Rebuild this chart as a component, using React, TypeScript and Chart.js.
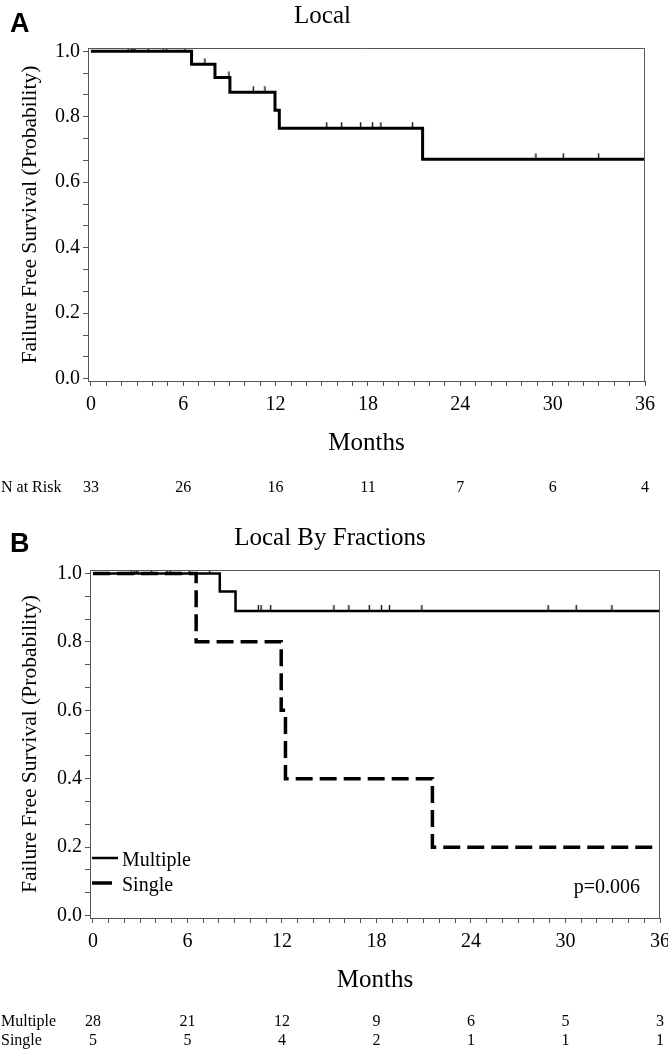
import React, { useEffect, useRef } from 'react';
import { Chart, registerables } from 'chart.js';

Chart.register(...registerables);

const SERIF = '"Liberation Serif", "Times New Roman", Times, serif';
const SANS = '"Liberation Sans", Arial, sans-serif';

// ---- axis ticks ----
const monthMajorTicks = [0, 6, 12, 18, 24, 30, 36];
const monthMinorStep = 1;
const probMajorTicks = [0, 0.2, 0.4, 0.6, 0.8, 1.0];
const probTickLabels = ['0.0', '0.2', '0.4', '0.6', '0.8', '1.0'];
const probMinorPerMajor = 2;

// ---- Panel A: Local ----
const localTimes = [0, 6.54, 8.06, 9.03, 11.96, 12.24, 21.55, 36];
const localSurvival = [1.0, 0.96, 0.92, 0.875, 0.82, 0.765, 0.67, 0.67];
const localCensorTimes = [2.42, 2.64, 2.75, 2.86, 3.72, 4.7, 4.92, 6.11, 7.41, 8.97, 10.55, 11.31, 15.32, 16.29, 17.52, 18.3, 18.84, 20.9, 28.91, 30.69, 32.99];
const localAtRisk = [33, 26, 16, 11, 7, 6, 4];

// ---- Panel B: Local By Fractions ----
const seriesNames = ['Multiple', 'Single'];
const multipleTimes = [0, 8.05, 9.05, 36];
const multipleSurvival = [1.0, 0.947, 0.89, 0.89];
const multipleCensorTimes = [2.42, 2.64, 2.75, 2.86, 3.72, 4.7, 4.92, 6.11, 7.41, 10.5, 10.67, 11.28, 15.3, 16.25, 17.54, 18.32, 18.82, 20.88, 28.9, 30.68, 32.95];
const singleTimes = [0, 6.55, 11.95, 12.22, 21.55, 36];
const singleSurvival = [1.0, 0.8, 0.6, 0.4, 0.2, 0.2];
const multipleAtRisk = [28, 21, 12, 9, 6, 5, 3];
const singleAtRisk = [5, 5, 4, 2, 1, 1, 1];
const pValueText = 'p=0.006';

const toPoints = (times: number[], surv: number[]) => times.map((t, i) => ({ x: t, y: surv[i] }));
const levelAt = (times: number[], surv: number[], t: number) => {
  let v = surv[0];
  for (let i = 0; i < times.length; i++) if (times[i] <= t) v = surv[i];
  return v;
};
const censorPoints = (ct: number[], times: number[], surv: number[]) =>
  ct.map((t) => ({ x: t, y: levelAt(times, surv, t) }));

function makeCensorMark() {
  const c = document.createElement('canvas');
  c.width = 3;
  c.height = 14;
  const g = c.getContext('2d')!;
  g.strokeStyle = '#000';
  g.lineWidth = 1.3;
  g.beginPath();
  g.moveTo(1.5, 1);
  g.lineTo(1.5, 7);
  g.stroke();
  return c;
}

const decorPlugin = {
  id: 'decor',
  afterDraw(chart: any, _args: any, opts: any) {
    const { ctx, chartArea: a, scales } = chart;
    ctx.save();
    // frame (top + right)
    ctx.strokeStyle = '#555';
    ctx.lineWidth = 1;
    ctx.beginPath();
    ctx.moveTo(a.left, a.top + 0.5);
    ctx.lineTo(a.right - 0.5, a.top + 0.5);
    ctx.lineTo(a.right - 0.5, a.bottom);
    ctx.stroke();
    // panel letter
    ctx.fillStyle = '#000';
    ctx.font = `bold 27px ${SANS}`;
    ctx.textAlign = 'left';
    ctx.textBaseline = 'alphabetic';
    ctx.fillText(opts.letter, 10, 32);
    // at-risk rows
    const xs = scales.x;
    ctx.font = `16px ${SERIF}`;
    ctx.textBaseline = 'middle';
    opts.rows.forEach((row: any, r: number) => {
      const y = xs.bottom + opts.rowStart + r * opts.rowGap;
      ctx.textAlign = 'left';
      ctx.fillText(row.label, 1, y);
      ctx.textAlign = 'center';
      row.values.forEach((v: number, i: number) => {
        ctx.fillText(String(v), xs.getPixelForValue(monthMajorTicks[i]), y);
      });
    });
    // legend inside plot
    if (opts.legend) {
      ctx.font = `20px ${SERIF}`;
      ctx.textAlign = 'left';
      opts.legend.forEach((item: any) => {
        const ds = chart.data.datasets[item.dataset];
        const y = a.bottom - item.offset;
        ctx.strokeStyle = '#000';
        ctx.lineWidth = ds.borderWidth;
        ctx.setLineDash([]);
        ctx.beginPath();
        ctx.moveTo(a.left + 2, y);
        ctx.lineTo(a.left + 2 + item.length, y);
        ctx.stroke();
        ctx.fillText(ds.label, a.left + 32, y + 3);
      });
    }
    if (opts.pValue) {
      ctx.font = `20px ${SERIF}`;
      ctx.textAlign = 'right';
      ctx.textBaseline = 'middle';
      ctx.fillText(opts.pValue, a.right - 20, a.bottom - 30);
    }
    ctx.restore();
  },
};

function buildChart(canvas: HTMLCanvasElement, spec: any) {
  const xTickValues: number[] = [];
  for (let m = monthMajorTicks[0]; m <= monthMajorTicks[monthMajorTicks.length - 1]; m += monthMinorStep) xTickValues.push(m);
  const yTickValues: number[] = [];
  for (let i = 0; i < probMajorTicks.length - 1; i++) {
    const lo = probMajorTicks[i];
    const hi = probMajorTicks[i + 1];
    for (let k = 0; k <= probMinorPerMajor; k++) yTickValues.push(lo + ((hi - lo) * k) / (probMinorPerMajor + 1));
  }
  yTickValues.push(probMajorTicks[probMajorTicks.length - 1]);

  const tickFont = { family: SERIF, size: 20 };
  const axisColor = '#555';

  return new Chart(canvas, {
    type: 'line',
    data: { datasets: spec.datasets },
    plugins: [decorPlugin],
    options: {
      responsive: false,
      animation: false,
      events: [],
      layout: { padding: { left: 0, right: spec.rightPad, top: 0, bottom: spec.bottomPad } },
      plugins: {
        legend: { display: false },
        tooltip: { enabled: false },
        title: {
          display: true,
          text: spec.title,
          color: '#000',
          font: { family: SERIF, size: 25, weight: 'normal', lineHeight: 1 },
          padding: { top: spec.titlePadTop, bottom: spec.titlePadBottom },
        },
        decor: {
          letter: spec.letter,
          rows: spec.rows,
          rowStart: spec.rowStart,
          rowGap: spec.rowGap,
          legend: spec.legend,
          pValue: spec.pValue,
        },
      } as any,
      scales: {
        x: {
          type: 'linear',
          min: -0.19,
          max: 36,
          afterBuildTicks: (s: any) => {
            s.ticks = xTickValues.map((v) => ({ value: v }));
          },
          afterFit: (s: any) => {
            s.height = spec.xAxisHeight;
            s.paddingLeft = 0;
            s.paddingRight = 0;
          },
          ticks: {
            autoSkip: false,
            maxRotation: 0,
            color: '#000',
            font: tickFont,
            padding: 7,
            callback: (v: any) => (monthMajorTicks.includes(Number(v)) ? String(v) : ''),
          },
          grid: { drawOnChartArea: false, drawTicks: true, tickLength: 5, color: axisColor, tickColor: axisColor },
          border: { display: true, color: axisColor, width: 1 },
          title: {
            display: true,
            text: 'Months',
            color: '#000',
            font: { family: SERIF, size: 25, lineHeight: 1 },
            padding: { top: 0, bottom: 0 },
          },
        },
        y: {
          type: 'linear',
          min: -0.007,
          max: 1.01,
          afterBuildTicks: (s: any) => {
            s.ticks = yTickValues.map((v) => ({ value: v }));
          },
          afterFit: (s: any) => {
            s.width = spec.plotLeft;
            s.paddingTop = 0;
            s.paddingBottom = 0;
          },
          ticks: {
            autoSkip: false,
            color: '#000',
            font: tickFont,
            padding: 3,
            callback: (v: any) => {
              const idx = probMajorTicks.findIndex((m) => Math.abs(m - Number(v)) < 1e-6);
              return idx >= 0 ? probTickLabels[idx] : '';
            },
          },
          grid: { drawOnChartArea: false, drawTicks: true, tickLength: 5, color: axisColor, tickColor: axisColor },
          border: { display: true, color: axisColor, width: 1 },
          title: {
            display: true,
            text: 'Failure Free Survival (Probability)',
            color: '#000',
            font: { family: SERIF, size: 21.5, lineHeight: 1.2 },
            padding: { top: 17, bottom: 0 },
          },
        },
      },
    } as any,
  });
}

export default function App() {
  const refA = useRef<HTMLCanvasElement>(null);
  const refB = useRef<HTMLCanvasElement>(null);

  useEffect(() => {
    const mark = makeCensorMark();
    const chartA = buildChart(refA.current!, {
      letter: 'A',
      title: 'Local',
      plotLeft: 88,
      rightPad: 23,
      titlePadTop: 4,
      titlePadBottom: 19,
      xAxisHeight: 75,
      bottomPad: 64,
      rows: [{ label: 'N at Risk', values: localAtRisk }],
      rowStart: 32,
      rowGap: 19,
      datasets: [
        {
          label: 'Local',
          data: toPoints(localTimes, localSurvival),
          stepped: true,
          borderColor: '#000',
          borderWidth: 3,
          pointRadius: 0,
          fill: false,
        },
        {
          label: 'Censored',
          data: censorPoints(localCensorTimes, localTimes, localSurvival),
          showLine: false,
          pointStyle: mark,
          pointRadius: 3,
          pointHoverRadius: 3,
        },
      ],
    });
    const chartB = buildChart(refB.current!, {
      letter: 'B',
      title: 'Local By Fractions',
      plotLeft: 90,
      rightPad: 8,
      titlePadTop: 6,
      titlePadBottom: 19,
      xAxisHeight: 75,
      bottomPad: 57,
      rows: [
        { label: seriesNames[0], values: multipleAtRisk },
        { label: seriesNames[1], values: singleAtRisk },
      ],
      rowStart: 29,
      rowGap: 19,
      legend: [
        { dataset: 0, offset: 60, length: 26 },
        { dataset: 1, offset: 35, length: 20 },
      ],
      pValue: pValueText,
      datasets: [
        {
          label: seriesNames[0],
          data: toPoints(multipleTimes, multipleSurvival),
          stepped: true,
          borderColor: '#000',
          borderWidth: 2.5,
          pointRadius: 0,
          fill: false,
        },
        {
          label: seriesNames[1],
          data: toPoints(singleTimes, singleSurvival),
          stepped: true,
          borderColor: '#000',
          borderWidth: 3.5,
          borderDash: [17, 7],
          pointRadius: 0,
          fill: false,
        },
        {
          label: 'Multiple censored',
          data: censorPoints(multipleCensorTimes, multipleTimes, multipleSurvival),
          showLine: false,
          pointStyle: mark,
          pointRadius: 3,
          pointHoverRadius: 3,
        },
      ],
    });
    return () => {
      chartA.destroy();
      chartB.destroy();
    };
  }, []);

  return (
    <div style={{ position: 'absolute', left: 0, top: 0, width: 668, height: 1050, background: '#fff' }}>
      <canvas ref={refA} width={668} height={520} style={{ display: 'block', width: '668px', height: '520px' }} />
      <canvas ref={refB} width={668} height={530} style={{ display: 'block', width: '668px', height: '530px' }} />
    </div>
  );
}
